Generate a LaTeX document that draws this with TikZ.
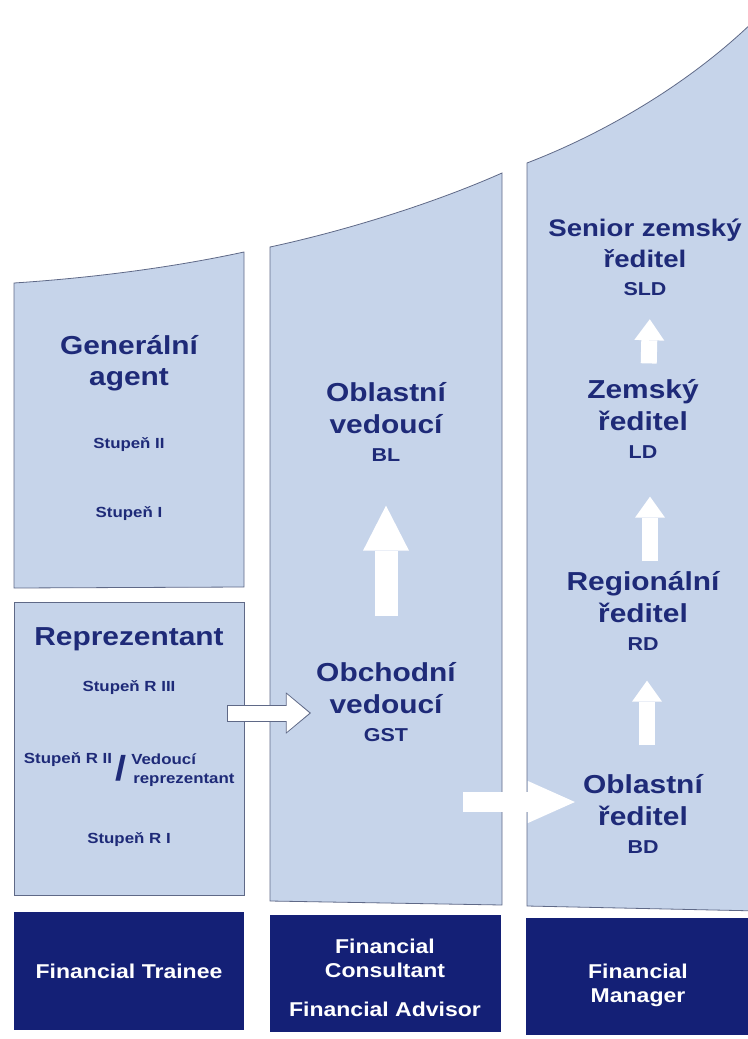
\documentclass[tikz,border=0pt]{standalone}
\usepackage{fontspec}
\setmainfont{Liberation Sans}[FakeStretch=1.15]
\usetikzlibrary{positioning,arrows.meta}
\definecolor{navy}{RGB}{30,42,120}
\definecolor{jobblue}{RGB}{20,32,118}
\definecolor{colfill}{RGB}{198,212,234}
\definecolor{colline}{RGB}{95,105,135}
\tikzset{
  col/.style={fill=colfill, draw=colline, line width=0.6pt},
  title/.style={text=navy, font=\bfseries\fontsize{19.5}{23.5}\selectfont, align=center, inner sep=0pt},
  code/.style={text=navy, font=\bfseries\fontsize{14}{16}\selectfont, inner sep=0pt},
  grade/.style={text=navy, font=\bfseries\fontsize{11}{16}\selectfont, inner sep=0pt},
  job/.style={fill=jobblue, text=white, font=\bfseries\fontsize{15}{18}\selectfont, align=center, minimum height=88pt},
  upbig/.style={white, line width=17.25pt, -{Triangle[length=33.75pt, width=34.5pt, line width=0pt]}},
  upsmall/.style={white, line width=12pt, -{Triangle[length=15.75pt, width=22.5pt, line width=0pt]}},
  rightbig/.style={white, line width=15pt, -{Triangle[length=35.25pt, width=31.5pt, line width=0pt]}},
  outarrow/.style={white, line width=11.25pt, shorten <=-12pt, shorten >=5pt,
    -{Triangle[length=17pt, width=28.5pt, line width=0pt]},
    preaction={draw=colline, line width=12.75pt, shorten <=-12.75pt, shorten >=3.75pt,
      -{Triangle[length=18.75pt, width=31pt, line width=0pt]}}}
}
\begin{document}
\begin{tikzpicture}[x=0.75pt, y=-0.75pt, node distance=11pt]
\useasboundingbox (0,0) rectangle (747,1039);

% columns
\draw[col] (14,283) .. controls (90,278) and (170,268) .. (244,252) -- (244,587) -- (14,588) -- cycle;
\node[col, minimum width=172.5pt, minimum height=219.75pt] (repbox) at (129,748.5) {};
\draw[col] (270,247) .. controls (340,232) and (430,205) .. (502,173) -- (502,905) -- (270,901) -- cycle;
\draw[col] (527,163) .. controls (600,135) and (690,85) .. (760,15) -- (760,911) -- (527,906) -- cycle;

% left column
\node[title] (gaT) at (129,363) {Generální\\agent};
\node[grade] (g2) at (129,445) {Stupeň II};
\node[grade] (g1) at (129,514) {Stupeň I};
\node[title] (repT) at (129,639) {Reprezentant};
\node[grade] (r3) at (129,688) {Stupeň R III};
\node[grade] (r2) at (68,760) {Stupeň R II};
\node[text=navy, font=\bfseries\fontsize{26}{26}\selectfont, inner sep=0pt] (slash) at (121,768) {/};
\node[grade, anchor=west] (ved) at (131,759) {Vedoucí};
\node[grade, anchor=west] (repr) at (133,780) {reprezentant};
\node[grade] (r1) at (129,840) {Stupeň R I};

% middle column
\node[title] (blT) at (386,408) {Oblastní\\vedoucí};
\node[code, below=of blT] (bl) {BL};
\node[title] (gstT) at (386,688) {Obchodní\\vedoucí};
\node[code, below=of gstT] (gst) {GST};

% right column
\node[title, font=\bfseries\fontsize{18}{23.5}\selectfont] (sldT) at (645,243) {Senior zemský\\ředitel};
\node[code, below=of sldT] (sld) {SLD};
\node[title] (ldT) at (643,405) {Zemský\\ředitel};
\node[code, below=of ldT] (ld) {LD};
\node[title] (rdT) at (643,597) {Regionální\\ředitel};
\node[code, below=of rdT] (rd) {RD};
\node[title] (bdT) at (643,800) {Oblastní\\ředitel};
\node[code, below=of bdT] (bd) {BD};

% bottom boxes
\node[job, minimum width=172.5pt] (trainee) at (129,971) {Financial Trainee};
\node[job, minimum width=173.25pt] (consult) at (385,973.5) {\rule{0pt}{17pt}Financial\\Consultant\\[11pt]Financial Advisor};
\node[job, minimum width=168pt] (manager) at (638,976.5) {\rule{0pt}{24.5pt}Financial\\Manager};

% arrows
\draw[upbig, shorten <=34.5pt, shorten >=33pt] (gstT.north) -- (bl.south);
\draw[upsmall, shorten <=12pt, shorten >=17.25pt] ([xshift=4pt]ldT.north) -- ([xshift=4pt]sld.south);
\draw[upsmall, shorten <=7.5pt, shorten >=28.5pt] ([xshift=5.25pt]rdT.north) -- ([xshift=5.25pt]ld.south);
\draw[upsmall, shorten <=21.75pt, shorten >=22.5pt] ([xshift=3pt]bdT.north) -- ([xshift=3pt]rd.south);
\draw[outarrow] ([yshift=26.6pt]repbox.east) -- ([yshift=26.6pt]repbox.east -| gstT.west);
\coordinate (gap) at (463,802);
\draw[rightbig, shorten >=6pt] (gap) -- (gap -| bdT.west);
\end{tikzpicture}
\end{document}
